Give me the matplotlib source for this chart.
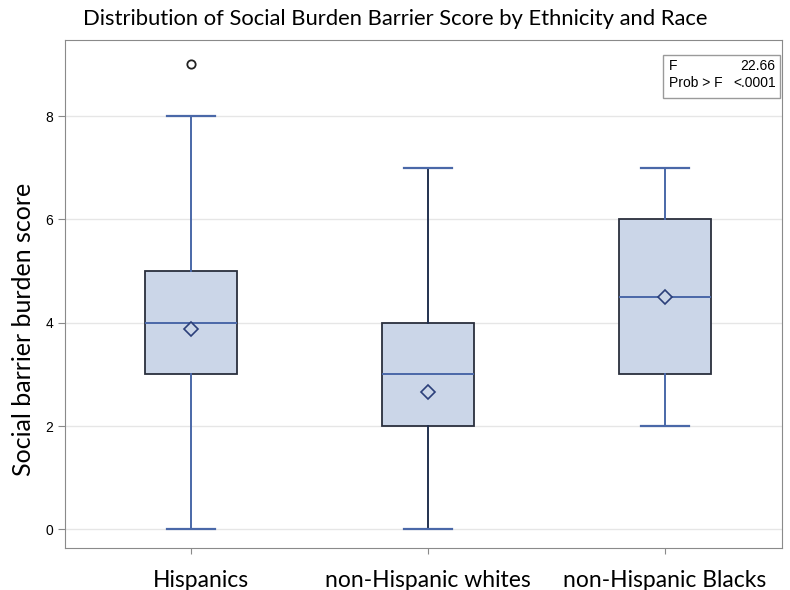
import matplotlib
matplotlib.use("Agg")
import matplotlib.pyplot as plt
from matplotlib.patches import Rectangle
from matplotlib.transforms import ScaledTranslation

# group summaries: whisker ends, quartiles, median, mean, outliers
groups = ["Hispanics", "non-Hispanic whites", "non-Hispanic Blacks"]
whislo = [0, 0, 2]
q1 = [3, 2, 3]
med = [4, 3, 4.5]
q3 = [5, 4, 6]
whishi = [8, 7, 7]
means = [3.88, 2.66, 4.5]
fliers = [[9], [], []]

f_value = "22.66"
p_value = "<.0001"

stats = []
for i, g in enumerate(groups):
    stats.append(dict(label=g, whislo=whislo[i], q1=q1[i], med=med[i], q3=q3[i],
                      whishi=whishi[i], mean=means[i], fliers=fliers[i]))

fig = plt.figure(figsize=(7.9, 5.9), dpi=100)
ax = fig.add_axes([0.082, 0.072, 0.908, 0.86])

line_blue = "#4a68a8"
edge = "#2a2f3d"
bp = ax.bxp(stats, positions=[1, 2, 3], widths=0.39, patch_artist=True,
            showmeans=True, showfliers=True,
            boxprops=dict(facecolor="#cbd6e8", edgecolor=edge, linewidth=1.3),
            medianprops=dict(color=line_blue, linewidth=1.4),
            whiskerprops=dict(color=line_blue, linewidth=1.4),
            capprops=dict(color=line_blue, linewidth=1.6),
            capwidths=0.2,
            meanprops=dict(marker="D", markerfacecolor="#cbd6e8", markeredgecolor="#2b3f7a",
                           markersize=7, markeredgewidth=1.2),
            flierprops=dict(marker="o", markerfacecolor="white", markeredgecolor="#222222",
                            markersize=6, markeredgewidth=1.3))

# the middle group's whiskers come out darker
for w in bp["whiskers"][2:4]:
    w.set_color("#23314f")

ax.set_xlim(0.468, 3.494)
ax.set_ylim(-0.35, 9.47)
ax.set_yticks([0, 2, 4, 6, 8])
ax.yaxis.grid(True, color="#e6e6e6", linewidth=1)
ax.set_axisbelow(True)
for s in ax.spines.values():
    s.set_color("#8a8a8a")
ax.tick_params(axis="y", labelsize=10, color="#8a8a8a", length=5)
ax.tick_params(axis="x", length=4, color="#8a8a8a", pad=12)
for lab in ax.get_yticklabels():
    lab.set_family("Liberation Sans")
ax.set_xticks([1, 2, 3])
ax.set_xticklabels(groups, fontsize=16.5, family="Lato")
# first category label sits a little right of its tick
first = ax.get_xticklabels()[0]
first.set_transform(first.get_transform() + ScaledTranslation(10 / 100, 0, fig.dpi_scale_trans))

ax.set_ylabel("Social barrier burden score", fontsize=18, family="Lato")
ax.yaxis.set_label_coords(-0.042, 0.43)
fig.suptitle("Distribution of Social Burden Barrier Score by Ethnicity and Race",
             fontsize=15.8, family="Lato", y=0.985)

# F-test inset
ax.add_patch(Rectangle((0.834, 0.886), 0.163, 0.084, transform=ax.transAxes,
                       facecolor="white", edgecolor="#9a9a9a", linewidth=1, zorder=5))
ax.text(0.842, 0.962, "F\nProb > F", transform=ax.transAxes, va="top", ha="left",
        fontsize=10, family="Liberation Sans", linespacing=1.25, zorder=6)
ax.text(0.991, 0.962, f_value + "\n" + p_value, transform=ax.transAxes, va="top",
        ha="right", fontsize=10, family="Liberation Sans", linespacing=1.25, zorder=6)

fig.savefig("out.png", dpi=100)
